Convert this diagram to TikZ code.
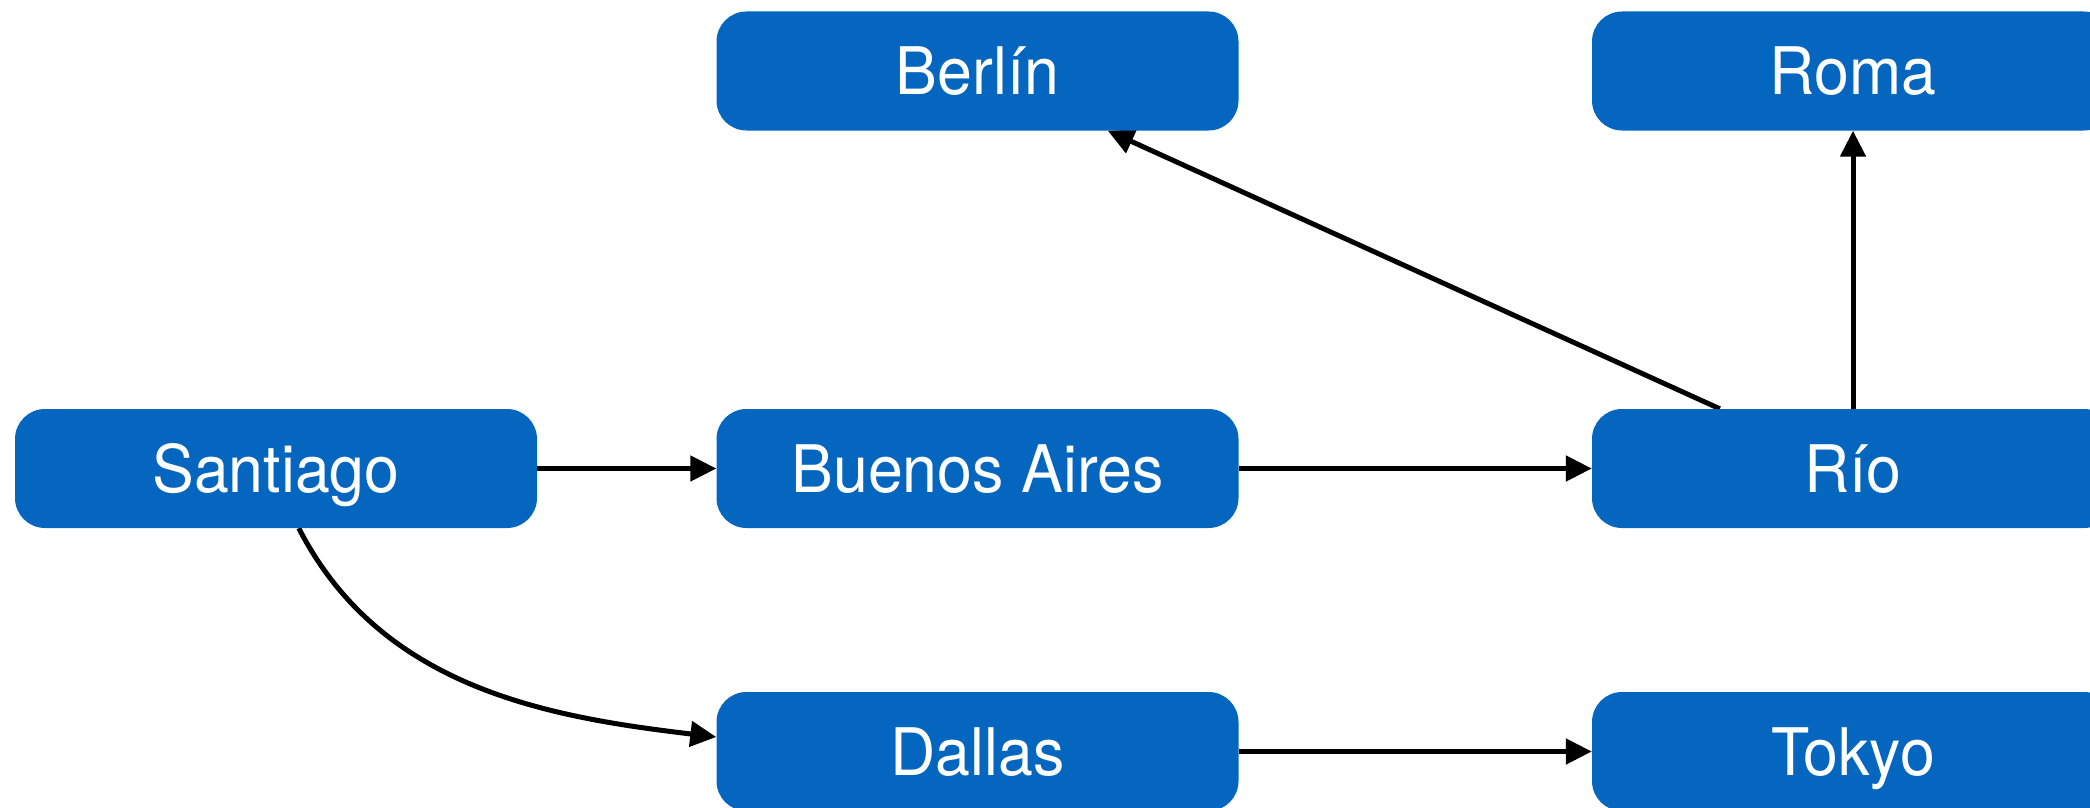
\documentclass[tikz,border=0pt]{standalone}
\usepackage{fontspec}
\setmainfont{TeX Gyre Heros}[FakeStretch=0.955]
\usetikzlibrary{arrows.meta,backgrounds}
\definecolor{cityblue}{RGB}{5,102,192}
\begin{document}
\begin{tikzpicture}[x=1pt,y=-1pt,
  city/.style={rectangle, rounded corners=30pt, fill=cityblue, text=white,
    minimum width=522pt, minimum height=119pt, inner sep=0pt,
    text height=47pt, text depth=0pt, font=\fontsize{65.6}{78}\selectfont},
  link/.style={line width=5pt, -{Triangle[length=26pt,width=25pt]}}]
\useasboundingbox (0,0) rectangle (2090,808);

% city boxes
\node[city] (berlin)   at (977.5,71)    {Berlín};
\node[city] (roma)     at (1853,71)     {Roma};
\node[city] (santiago) at (276,468.5)   {Santiago};
\node[city] (bsas)     at (977.5,468.5) {Buenos Aires};
\node[city] (rio)      at (1853,468.5)  {Río};
\node[city] (dallas)   at (977.5,751.5) {Dallas};
\node[city] (tokyo)    at (1853,751.5)  {Tokyo};

% routes, kept behind the boxes
\begin{scope}[on background layer]
  \draw[link] (santiago.east) -- (bsas.west);
  \draw[link] (bsas.east) -- (rio.west);
  \draw[link] (rio.north) -- (roma.south);
  \draw[link] ([xshift=128pt]rio.north west) -- ([xshift=391.5pt]berlin.south west);
  \draw[link] (dallas.east) -- (tokyo.west);
  \draw[link] ([xshift=284pt]santiago.south west)
      .. controls +(82,160) and +(-168.5,-20) .. ([yshift=14.5pt]dallas.west);
\end{scope}
\end{tikzpicture}
\end{document}
